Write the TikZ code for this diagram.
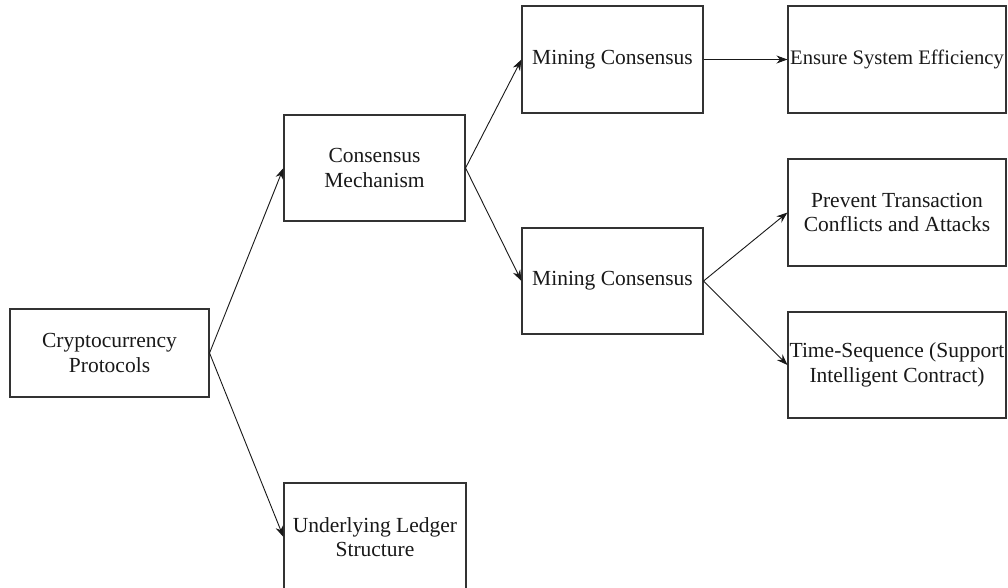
\documentclass[tikz,border=0pt]{standalone}
\usepackage{fontspec}
\setmainfont{Liberation Serif}
\usetikzlibrary{arrows.meta}
\begin{document}
\begin{tikzpicture}[x=1pt,y=-1pt,
  box/.style={draw=black!80,line width=1.1pt,rectangle,align=center,inner sep=0pt,
    font=\fontsize{21.5}{24.5}\selectfont,text=black!90},
  conn/.style={draw=black!90,line width=0.9pt,-{Stealth[length=11pt,width=8pt]}}]
\useasboundingbox[fill=white] (0,0) rectangle (1008,587);
\node[box,minimum width=199pt,minimum height=88pt] (cp) at (109.5,353) {Cryptocurrency\\Protocols};
\node[box,minimum width=181pt,minimum height=106pt] (cm) at (374.5,168) {Consensus\\Mechanism};
\node[box,minimum width=181pt,minimum height=107pt] (mc1) at (612.5,59.5) {Mining Consensus};
\node[box,minimum width=218pt,minimum height=107pt,font=\fontsize{20.6}{24.5}\selectfont] (ese) at (897,59.5) {Ensure System Efficiency};
\node[box,minimum width=181pt,minimum height=106pt] (mc2) at (612.5,281) {Mining Consensus};
\node[box,minimum width=218pt,minimum height=107pt] (ptc) at (897,212.5) {Prevent Transaction\\Conflicts and Attacks};
\node[box,minimum width=218pt,minimum height=106pt] (ts) at (897,365) {Time-Sequence (Support\\Intelligent Contract)};
\node[box,minimum width=182pt,minimum height=108pt] (uls) at (375,537) {Underlying Ledger\\Structure};
\draw[conn] (cp.east) -- (cm.west);
\draw[conn] (cp.east) -- (uls.west);
\draw[conn] (cm.east) -- (mc1.west);
\draw[conn] (cm.east) -- (mc2.west);
\draw[conn] (mc1.east) -- (ese.west);
\draw[conn] (mc2.east) -- (ptc.west);
\draw[conn] (mc2.east) -- (ts.west);
\end{tikzpicture}
\end{document}
